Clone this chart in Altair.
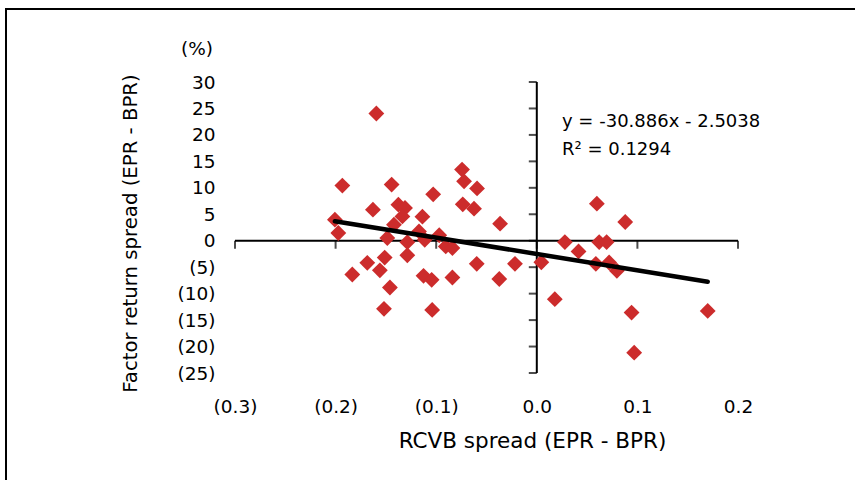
import altair as alt
import pandas as pd

# Scatter data: RCVB spread (x) vs factor return spread in % (y)
rcvb_spread = [
    -0.1595, -0.1933, -0.1443, -0.1629, -0.1376, -0.1310, -0.1336, -0.1420,
    -0.2007, -0.1973, -0.1486, -0.1287, -0.1137, -0.1030, -0.1171, -0.1114,
    -0.0970, -0.0905, -0.0839, -0.0743, -0.0723, -0.0594, -0.0736, -0.0624,
    -0.0365, -0.1834, -0.1685, -0.1560, -0.1512, -0.1460, -0.1519, -0.1287,
    -0.1126, -0.1045, -0.1040, -0.0839, -0.0597, -0.0373, -0.0217, 0.0045,
    0.0179, 0.0279, 0.0415, 0.0597, 0.0620, 0.0694, 0.0587, 0.0719,
    0.0796, 0.0879, 0.0942, 0.0968, 0.1699,
]
factor_spread = [
    24.05, 10.42, 10.61, 5.87, 6.82, 6.19, 4.60, 3.03,
    3.98, 1.46, 0.51, -0.28, 4.55, 8.77, 1.76, 0.19,
    1.04, -1.08, -1.38, 13.45, 11.23, 9.89, 6.88, 6.06,
    3.22, -6.38, -4.17, -5.59, -3.18, -8.84, -12.88, -2.75,
    -6.63, -7.39, -13.07, -6.95, -4.36, -7.23, -4.36, -4.07,
    -11.04, -0.25, -2.03, 7.01, -0.25, -0.25, -4.36, -4.11,
    -5.68, 3.54, -13.58, -21.16, -13.26,
]

# Trendline as printed on the chart
slope = -30.886
intercept = -2.5038
r_squared = 0.1294

x_ticks = [-0.3, -0.2, -0.1, 0.0, 0.1, 0.2]
y_ticks = [-25, -20, -15, -10, -5, 0, 5, 10, 15, 20, 25, 30]

FONT = "DejaVu Sans"
FS = 18
LFS = 18.5

pts = pd.DataFrame({"x": rcvb_spread, "y": factor_spread})
xmin, xmax = min(rcvb_spread), max(rcvb_spread)
trend = pd.DataFrame({"x": [xmin, xmax], "y": [slope * xmin + intercept, slope * xmax + intercept]})
xt = pd.DataFrame({"x": x_ticks, "y": [0] * len(x_ticks)})
yt = pd.DataFrame({"x": [0.0] * len(y_ticks), "y": y_ticks})
hline = pd.DataFrame({"x": [x_ticks[0]], "x2": [x_ticks[-1]], "y": [0]})
vline = pd.DataFrame({"x": [0.0], "y": [y_ticks[0]], "y2": [y_ticks[-1]]})

xscale = alt.Scale(domain=[x_ticks[0], x_ticks[-1]], nice=False, zero=False)
yscale = alt.Scale(domain=[y_ticks[0], y_ticks[-1]], nice=False, zero=False)

x_axis = alt.Axis(
    values=x_ticks, domain=False, ticks=False, grid=False, labelOverlap=False,
    labelFlush=False,
    labelExpr="datum.value < 0 ? '(' + format(-datum.value, '.1f') + ')' : format(datum.value, '.1f')",
    labelFont=FONT, labelFontSize=LFS, labelColor="black", labelPadding=24,
    title="RCVB spread (EPR - BPR)", titleFont=FONT, titleFontSize=21.5,
    titleFontWeight="normal", titleColor="black", titlePadding=15,
    titleX=297, titleAlign="center",
)
y_axis = alt.Axis(
    values=y_ticks, domain=False, ticks=False, grid=False, labelOverlap=False,
    labelFlush=False,
    labelExpr="datum.value < 0 ? '(' + format(-datum.value, 'd') + ')' : format(datum.value, 'd')",
    labelFont=FONT, labelFontSize=LFS, labelColor="black", labelPadding=20,
    title="Factor return spread (EPR - BPR)", titleFont=FONT, titleFontSize=19.7,
    titleFontWeight="normal", titleColor="black", titlePadding=37,
    titleY=151, titleAlign="center",
)

def X(field):
    return alt.X(field, scale=xscale, axis=x_axis)

def Y(field):
    return alt.Y(field, scale=yscale, axis=y_axis)

frame = alt.Chart(pd.DataFrame({"a": [0]})).mark_rect(
    filled=False, stroke="black", strokeWidth=2
).encode(x=alt.value(-229), x2=alt.value(640), y=alt.value(-73), y2=alt.value(420))

h_rule = alt.Chart(hline).mark_rule(color="black", strokeWidth=2).encode(
    x=X("x:Q"), x2="x2:Q", y=Y("y:Q")
)
v_rule = alt.Chart(vline).mark_rule(color="black", strokeWidth=2).encode(
    x=X("x:Q"), y=Y("y:Q"), y2="y2:Q"
)
x_tick_marks = alt.Chart(xt).mark_tick(
    orient="vertical", size=8, thickness=2, color="black", yOffset=4
).encode(x=X("x:Q"), y=Y("y:Q"))
y_tick_marks = alt.Chart(yt).mark_tick(
    orient="horizontal", size=8, thickness=2, color="black", xOffset=-4
).encode(x=X("x:Q"), y=Y("y:Q"))

points = alt.Chart(pts).mark_point(
    shape="diamond", filled=True, size=250, color="#CC2C2C", opacity=1
).encode(x=X("x:Q"), y=Y("y:Q"))

trend_line = alt.Chart(trend).mark_line(color="black", strokeWidth=4.5, strokeCap="round").encode(
    x=X("x:Q"), y=Y("y:Q")
)

eq_text = alt.Chart(pd.DataFrame({"t": [f"y = {slope}x - {abs(intercept)}"]})).mark_text(
    align="left", baseline="alphabetic", font=FONT, fontSize=FS, color="black"
).encode(text="t:N", x=alt.value(327), y=alt.value(45))
r2_text = alt.Chart(pd.DataFrame({"t": [f"R\u00b2 = {r_squared}"]})).mark_text(
    align="left", baseline="alphabetic", font=FONT, fontSize=FS, color="black"
).encode(text="t:N", x=alt.value(327), y=alt.value(73))
pct_text = alt.Chart(pd.DataFrame({"t": ["(%)"]})).mark_text(
    align="center", baseline="alphabetic", font=FONT, fontSize=LFS, color="black"
).encode(text="t:N", x=alt.value(-38), y=alt.value(-27))

chart = alt.layer(
    frame, h_rule, v_rule, x_tick_marks, y_tick_marks,
    points, trend_line, eq_text, r2_text, pct_text
).properties(
    width=503, height=291,
    padding={"left": 235, "top": 82, "right": 117, "bottom": 107},
    autosize="none",
    background="white",
).configure_view(stroke=None).configure_axis(labelOverlap=False)

chart.save("out.html", embed_options={"renderer": "svg", "actions": False})
